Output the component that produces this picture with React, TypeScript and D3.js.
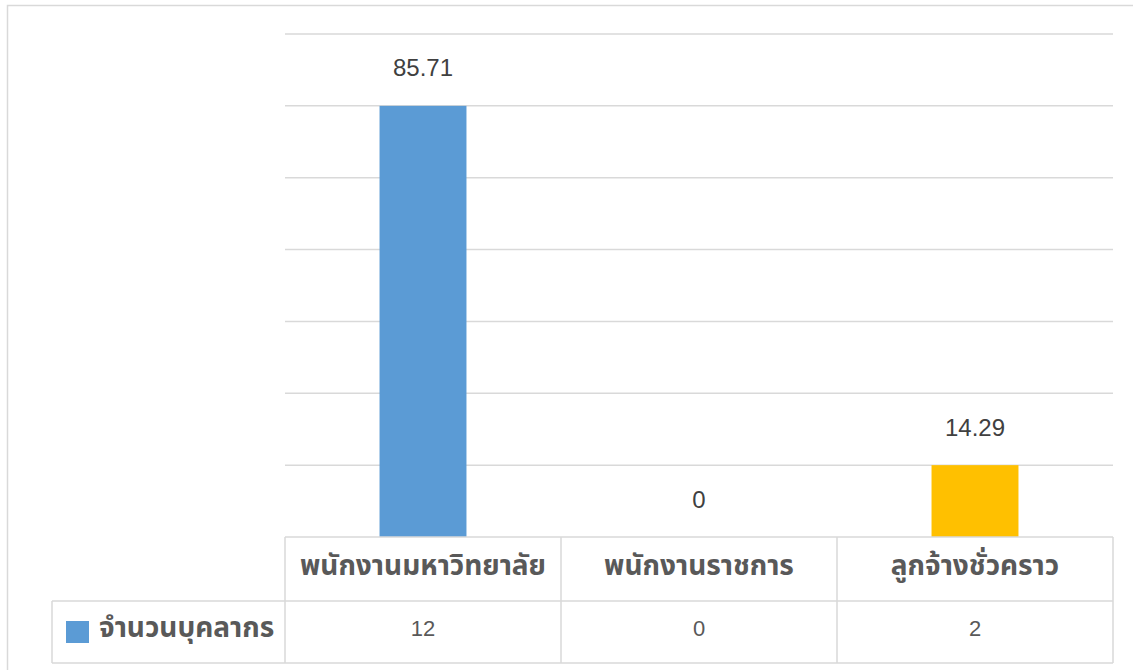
import React from "react";
import * as d3 from "d3";

const categories = ["พนักงานมหาวิทยาลัย", "พนักงานราชการ", "ลูกจ้างชั่วคราว"];
const seriesName = "จำนวนบุคลากร";
const counts = [12, 0, 2];
const percentLabels = ["85.71", "0", "14.29"];
const yTicks = [0, 2, 4, 6, 8, 10, 12, 14];

const W = 1133;
const H = 670;
const plotLeft = 285;
const plotRight = 1113;
const plotTop = 34;
const plotBottom = 537;
const rowMid = 601;
const tableBottom = 663;
const legendLeft = 52;

const THAI = "'Noto Sans Thai', 'Noto Sans', Tahoma, Arial, sans-serif";
const NUM = "'Liberation Sans', Arial, Helvetica, sans-serif";

export default function App() {
  const x = d3.scaleBand<string>().domain(categories).range([plotLeft, plotRight]).paddingInner(0).paddingOuter(0);
  const y = d3.scaleLinear().domain([0, 14]).range([plotBottom, plotTop]);
  const bw = x.bandwidth() * 0.315;
  const colors = ["#5b9bd5", "#5b9bd5", "#ffc000"];
  const gridColor = "#d9d9d9";
  const cols = [...categories.map((c) => x(c) as number), plotRight];

  return (
    <svg width={W} height={H} style={{ position: "absolute", left: 0, top: 0 }}>
      <rect x={0} y={0} width={W} height={H} fill="#fff" />
      {/* outer chart border */}
      <rect x={7.5} y={5.5} width={W + 20} height={H + 20} fill="none" stroke={gridColor} strokeWidth={1.5} />
      {/* gridlines */}
      {yTicks.slice(1).map((t) => (
        <line key={t} x1={plotLeft} x2={plotRight} y1={y(t)} y2={y(t)} stroke={gridColor} strokeWidth={1.5} />
      ))}
      {/* bars */}
      {categories.map((c, i) => {
        const cx = (x(c) as number) + x.bandwidth() / 2;
        return (
          <g key={c}>
            <rect x={cx - bw / 2} y={y(counts[i])} width={bw} height={plotBottom - y(counts[i])} fill={colors[i]} />
            <text x={cx} y={y(counts[i]) - 38} textAnchor="middle" dominantBaseline="central" fontSize={24}
              fontFamily={NUM} fill="#404040">
              {percentLabels[i]}
            </text>
          </g>
        );
      })}
      {/* data table */}
      <g stroke={gridColor} strokeWidth={1.5} fill="none">
        <line x1={plotLeft} x2={plotRight} y1={plotBottom} y2={plotBottom} />
        <line x1={legendLeft} x2={plotRight} y1={rowMid} y2={rowMid} />
        <line x1={legendLeft} x2={plotRight} y1={tableBottom} y2={tableBottom} />
        {cols.map((cx, i) => (
          <line key={i} x1={cx} x2={cx} y1={plotBottom} y2={tableBottom} />
        ))}
        <line x1={legendLeft} x2={legendLeft} y1={rowMid} y2={tableBottom} />
      </g>
      {categories.map((c) => (
        <text key={c} x={(x(c) as number) + x.bandwidth() / 2} y={566} textAnchor="middle" dominantBaseline="central"
          fontSize={28} fontWeight="bold" fontFamily={THAI} fill="#595959">
          {c}
        </text>
      ))}
      {counts.map((v, i) => (
        <text key={i} x={(x(categories[i]) as number) + x.bandwidth() / 2} y={628} textAnchor="middle" dominantBaseline="central"
          fontSize={22} fontFamily={NUM} fill="#595959">
          {v}
        </text>
      ))}
      <rect x={66} y={621} width={23} height={22} fill="#5b9bd5" />
      <text x={99} y={628} dominantBaseline="central" fontSize={28} fontWeight="bold" fontFamily={THAI} fill="#595959">
        {seriesName}
      </text>
    </svg>
  );
}
